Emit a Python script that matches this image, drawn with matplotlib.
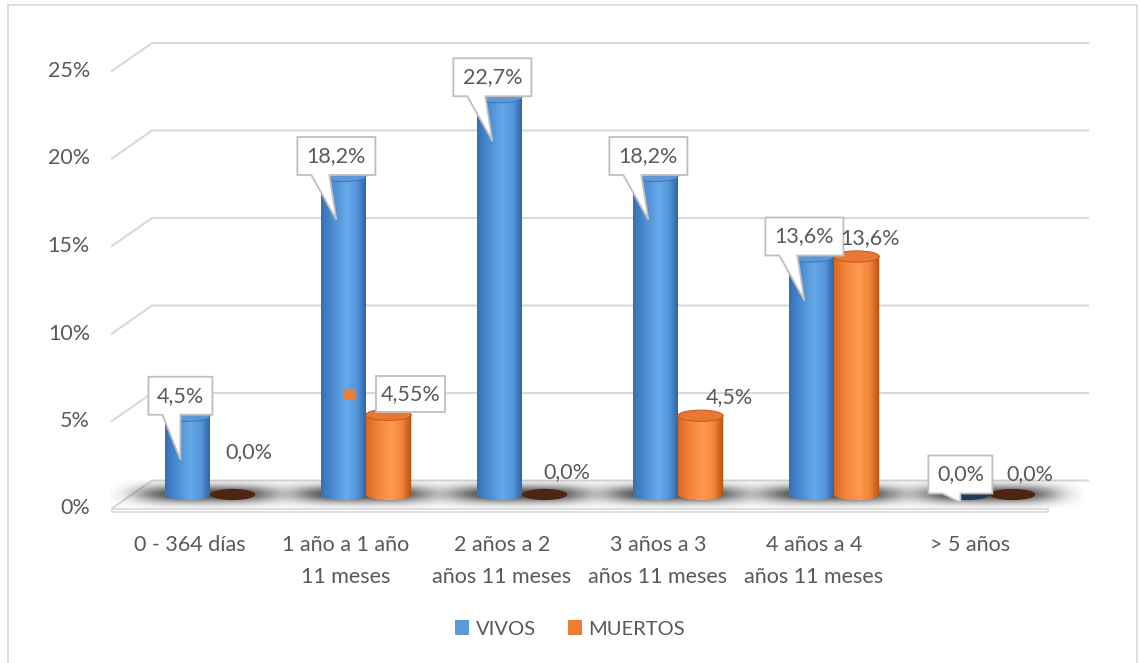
import numpy as np
import matplotlib.pyplot as plt
import matplotlib.transforms as mtransforms
from matplotlib.patches import Polygon, Ellipse, Patch, Rectangle
from matplotlib.colors import LinearSegmentedColormap
from matplotlib.lines import Line2D

plt.rcParams['font.family'] = ['Lato', 'DejaVu Sans']

# age groups and share of cases (%)
categories = ['0 - 364 días', '1 año a 1 año\n11 meses', '2 años a 2\naños 11 meses',
              '3 años a 3\naños 11 meses', '4 años a 4\naños 11 meses', '> 5 años']
vivos = [4.5, 18.2, 22.7, 18.2, 13.6, 0.0]
muertos = [0.0, 4.55, 0.0, 4.5, 13.6, 0.0]
series_names = ['VIVOS', 'MUERTOS']
yticks = [0, 5, 10, 15, 20, 25]

TXT = '#595959'
GRID = '#d9d9d9'
FS = 15.5

# fake 3D: depth vector of the floor, in data units
DX, DY = 0.2564, 1.6
DEPTH = 0.5
BAR_W = 0.29
ELL_H = 0.64


def pct(v):
    s = f'{v:.2f}'
    if s.endswith('0'):
        s = s[:-1]
    return s.replace('.', ',') + '%'


fig = plt.figure(figsize=(11.4, 6.63), dpi=100)
ax = fig.add_axes([0, 0, 1, 1])
ax.set_autoscale_on(False)
ax.set_xlim(-190 / 156, 950 / 156)
ax.set_ylim((508.5 - 663) / 17.5, 508.5 / 17.5)
ax.axis('off')

# chart area border
for xs, ys in [([8 / 1140, 8 / 1140], [0, 1 - 5 / 663]),
               ([8 / 1140, 1137 / 1140], [1 - 5 / 663, 1 - 5 / 663]),
               ([1137 / 1140, 1137 / 1140], [0, 1 - 5 / 663])]:
    fig.add_artist(Line2D(xs, ys, color=GRID, lw=1.2, transform=fig.transFigure))

n = len(categories)
x0, x1 = -0.5, n - 0.5

# floor slab
ax.add_patch(Polygon([(x0, 0), (x1, 0), (x1 + DX, DY), (x0 + DX, DY)],
                     closed=True, fc='white', ec='none', zorder=1))
ax.add_patch(Rectangle((x0, -0.18), x1 - x0, 0.18, fc='white', ec=GRID, lw=1.2, zorder=1.2))
ax.plot([x0, x0 + DX, x1 + DX], [0, DY, DY], color=GRID, lw=1.5, zorder=1.1)

# gridlines on the side and back walls
for v in yticks[1:]:
    ax.plot([x0, x0 + DX, x1 + DX], [v, v + DY, v + DY], color=GRID, lw=1.5, zorder=1)
for v in yticks:
    ax.text(-0.641, v, f'{v}%', ha='right', va='center', fontsize=FS, color=TXT)

# category labels
for i, cat in enumerate(categories):
    ax.text(i, -1.5, cat, ha='center', va='top', fontsize=FS, color=TXT, linespacing=1.75)

base = DEPTH * DY

# soft shadows on the floor
sx = np.linspace(-0.62, 0.62, 200)
sy = np.linspace(-0.8, 0.8, 60)
SX, SY = np.meshgrid(sx, sy)
alpha = np.exp(-np.abs(SX / 0.45) ** 4) * np.exp(-(SY / 0.5) ** 2) * 0.9
shadow = np.zeros(SX.shape + (4,))
shadow[..., :3] = 0.2
shadow[..., 3] = alpha
for i in range(n):
    xc = i + DEPTH * DX - 0.02
    ax.imshow(shadow, extent=[xc - 0.62, xc + 0.62, base - 0.8, base + 0.8],
              origin='lower', aspect='auto', interpolation='bilinear', zorder=1.5)

blue_cmap = LinearSegmentedColormap.from_list(
    'b', [(0, '#3670b4'), (0.25, '#4b8bd0'), (0.55, '#66aae8'), (0.78, '#5597dc'), (1, '#2b5f9f')])
orange_cmap = LinearSegmentedColormap.from_list(
    'o', [(0, '#d8671f'), (0.25, '#f2843a'), (0.55, '#ff9a50'), (0.78, '#f3853a'), (1, '#b3500d')])
grad = np.linspace(0, 1, 256).reshape(1, -1)

styles = [
    dict(cmap=blue_cmap, top='#5d99d6', rim='#4079ba', zero='#1f3b58'),
    dict(cmap=orange_cmap, top='#ea7834', rim='#c85e1c', zero='#4e2412'),
]


def cylinder(xc, value, st):
    top = base + value
    if value == 0:
        ax.add_patch(Ellipse((xc, base), BAR_W, ELL_H, fc=st['zero'], ec='none', zorder=3))
        return
    t = np.linspace(np.pi, 2 * np.pi, 60)
    pts = list(zip(xc + BAR_W / 2 * np.cos(t), base + ELL_H / 2 * np.sin(t)))
    pts += [(xc + BAR_W / 2, top), (xc - BAR_W / 2, top)]
    body = Polygon(pts, closed=True, fc='none', ec='none', zorder=3)
    ax.add_patch(body)
    im = ax.imshow(grad, extent=[xc - BAR_W / 2, xc + BAR_W / 2, base - ELL_H / 2, top],
                   cmap=st['cmap'], origin='lower', aspect='auto', zorder=3)
    im.set_clip_path(body)
    ax.add_patch(Ellipse((xc, top), BAR_W, ELL_H, fc=st['top'], ec=st['rim'], lw=0.8, zorder=3))


def anchor(x, y):
    # offsets in pixels around a data point
    return fig.dpi_scale_trans + mtransforms.ScaledTranslation(x, y, ax.transData)


def callout(xc, value, text):
    top = base + value
    tr = anchor(xc, top)
    w = 14 * len(text) + 8
    cx = -7
    L, R, B, T = cx - w / 2, cx + w / 2, 1, 39
    bar_px = value * 17.5
    tip = (cx, -min(44, bar_px * 0.55 + 8))
    verts = [(L, B), (L + 14, B), tip, (L + 32, B), (R, B), (R, T), (L, T)]
    verts = [(a / 100, b / 100) for a, b in verts]
    ax.add_patch(Polygon(verts, closed=True, fc='white', ec='#bfbfbf', lw=1.3,
                         transform=tr, zorder=6))
    ax.text(cx / 100, (B + T) / 200, text, transform=tr, ha='center', va='center',
            fontsize=FS, color=TXT, zorder=7)


# label offsets for the MUERTOS series, pixels from the top of each cylinder
m_offsets = [(16, 42), (22, 21), (22, 22), (29, 19), (13, 18), (17, 20)]

for i in range(n):
    xb = i + DEPTH * DX - BAR_W / 2
    xo = i + DEPTH * DX + BAR_W / 2
    cylinder(xb, vivos[i], styles[0])
    cylinder(xo, muertos[i], styles[1])

for i in range(n):
    xb = i + DEPTH * DX - BAR_W / 2
    xo = i + DEPTH * DX + BAR_W / 2
    callout(xb, vivos[i], pct(vivos[i]))
    dx, dy = m_offsets[i]
    tr = anchor(xo, base + muertos[i])
    label = pct(muertos[i])
    if i == 1:
        w = 14 * len(label) - 1
        ax.add_patch(Rectangle(((dx - w / 2) / 100, (dy - 18) / 100), w / 100, 0.36,
                               fc='white', ec='#bfbfbf', lw=1.3, transform=tr, zorder=6))
        ax.add_patch(Rectangle((-45 / 100, (dy - 6) / 100), 0.11, 0.11,
                               fc='#ed7d31', ec='none', transform=tr, zorder=6))
    ax.text(dx / 100, dy / 100, label, transform=tr, ha='center', va='center',
            fontsize=FS, color=TXT, zorder=7)

handles = [Patch(fc='#5b9bd5', ec='none'), Patch(fc='#ed7d31', ec='none')]
leg = ax.legend(handles, series_names, loc='center', bbox_to_anchor=(0.5, 1 - 629 / 663),
                ncol=2, frameon=False, fontsize=14.5, handlelength=0.7, handleheight=0.7,
                handletextpad=0.3, columnspacing=1.6)
for t in leg.get_texts():
    t.set_color(TXT)

fig.savefig('out.png', dpi=100)
